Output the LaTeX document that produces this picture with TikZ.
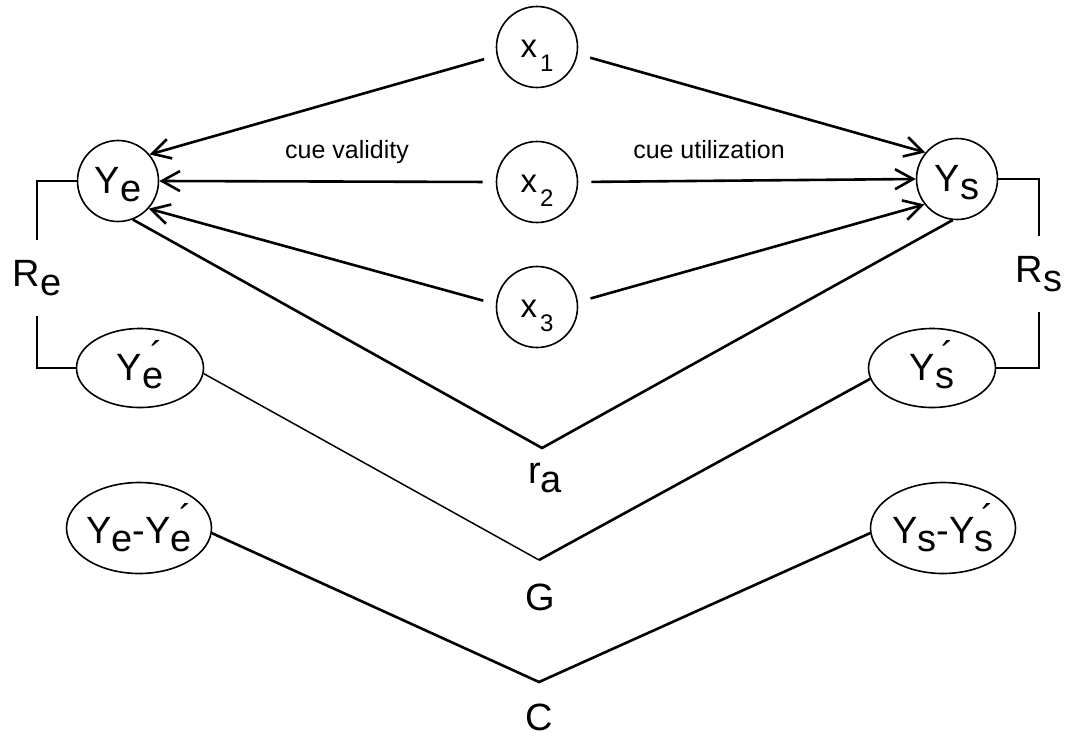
\documentclass[tikz,border=0pt]{standalone}
\usepackage{fontspec}
\setmainfont{Liberation Sans}
\usetikzlibrary{shapes.geometric}
\usetikzlibrary{arrows.meta}

\newcommand{\lo}[1]{\raisebox{-0.22em}{#1}}
\newcommand{\tck}{\llap{\raisebox{0.3em}{´}}}
\newcommand{\cue}[1]{{\fontsize{33}{35}\selectfont x}\kern3pt\raisebox{-14pt}{\fontsize{24}{26}\selectfont #1}}

\begin{document}
\begin{tikzpicture}[x=1pt,y=-1pt,
    every node/.style={font=\fontsize{38}{40}\selectfont, inner sep=0pt},
    var/.style={draw, circle, line width=1.6pt, minimum size=81pt, text depth=0pt},
    est/.style={draw, ellipse, line width=1.6pt, minimum width=127pt, minimum height=79pt, text depth=0pt},
    dif/.style={draw, ellipse, line width=1.6pt, minimum width=145pt, minimum height=91pt, text depth=0pt},
    arr/.style={line width=2.6pt, -{Straight Barb[length=18pt,width=20pt]}, shorten <=13pt},
    lnk/.style={line width=2.6pt},
    lbl/.style={font=\fontsize{25}{28}\selectfont, anchor=base}]
    \useasboundingbox (0,0) rectangle (1067,739);
    \node[var, text height=20pt] (x1) at (537,47) {\cue{1}};
    \node[var, text height=20pt] (x2) at (537,182) {\cue{2}};
    \node[var, text height=20pt] (x3) at (537,307) {\cue{3}};
    \node[var, text height=24pt] (Ye) at (118,181) {Y\lo{e}};
    \node[var, text height=24pt] (Ys) at (957,179) {Y\lo{s}};
    \node[est, text height=24pt] (Yep) at (140,368) {Y\lo{e}\tck};
    \node[est, text height=24pt] (Ysp) at (932,368) {Y\lo{s}\tck};
    \node[dif, text height=30pt] (Yed) at (139,528) {\makebox[80pt]{Y\lo{e}-Y\lo{e}\tck}};
    \node[dif, text height=30pt] (Ysd) at (943,528) {\makebox[80pt]{Y\lo{s}-Y\lo{s}\tck}};
    \node[minimum height=76pt] (Re) at (37,278) {R\lo{e}};
    \node[minimum height=76pt] (Rs) at (1039,274) {R\lo{s}};
    \node (ra) at (545,478) {r\lo{a}};
    \node (G) at (540,597) {G};
    \node (C) at (539,717) {C};
    \node[lbl] (val) at (347,158) {cue validity};
    \node[lbl] (uti) at (709,158) {cue utilization};
    \coordinate (rv) at (542,448);
    \coordinate (gv) at (539,560);
    \coordinate (cv) at (539,682);
    \draw[arr] (x1.192) -- (Ye.40);
    \draw[arr] (x1.350) -- (Ys.140);
    \draw[arr] (x2.west) -- (Ye.east);
    \draw[arr] (x2.east) -- (Ys.west);
    \draw[arr] (x3.176) -- (Ye.318);
    \draw[arr] (x3.7) -- (Ys.218);
    \draw[lnk] (Ye.west) -| (Re.north);
    \draw[lnk] (Re.south) |- (Yep.west);
    \draw[lnk] (Ys.east) -| (Rs.north);
    \draw[lnk] (Rs.south) |- (Ysp.east);
    \draw[lnk] (Ye.291) -- (rv) -- (Ys.264);
    \draw[line width=1.5pt] (Yep.355) -- (gv);
    \draw[lnk] (gv) -- (Ysp.190);
    \draw[lnk] (Yed.356) -- (cv) -- (Ysd.184);
\end{tikzpicture}
\end{document}
